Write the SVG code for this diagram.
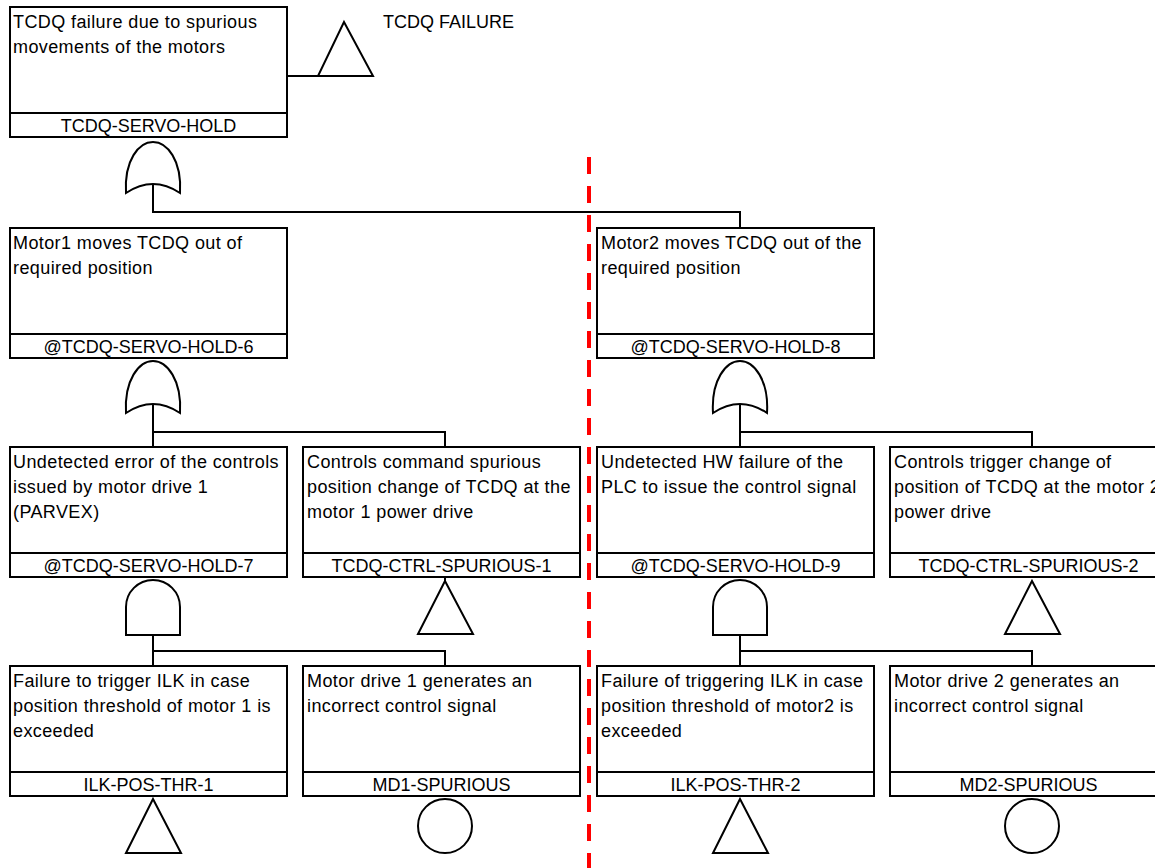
<svg xmlns="http://www.w3.org/2000/svg" width="1155" height="868" viewBox="0 0 1155 868">
<style>
.box{fill:#fff;stroke:#000;stroke-width:2}
.ln{fill:none;stroke:#000;stroke-width:2}
.gate{fill:#fff;stroke:#000;stroke-width:2}
.d{font-family:"Liberation Sans",Arial,sans-serif;font-size:18px;letter-spacing:0.4px;fill:#000}
.l{font-family:"Liberation Sans",Arial,sans-serif;font-size:18px;fill:#000;text-anchor:middle}
.sep{stroke:#f00;stroke-width:4;stroke-dasharray:17 12;fill:none}
</style>
<rect width="1155" height="868" fill="#fff"/>

<g id="connectors">
<line class="ln" x1="287" y1="76" x2="318" y2="76"/>
<path class="ln" d="M153,184 V212 H740 V228"/>
<path class="ln" d="M153,404 V447 M153,432 H445 V447"/>
<path class="ln" d="M740,404 V447 M740,432 H1032 V447"/>
<path class="ln" d="M445,577 V581"/>
<path class="ln" d="M153,635 V666 M153,651 H445 V666"/>
<path class="ln" d="M740,635 V666 M740,651 H1032 V666"/>
</g>

<g id="n-top">
<rect class="box" x="10" y="7" width="277" height="130"/>
<line class="ln" x1="10" y1="113" x2="287" y2="113"/>
<text class="d" x="13" y="28">TCDQ failure due to spurious</text>
<text class="d" x="13" y="53">movements of the motors</text>
<text class="l" x="148.5" y="132">TCDQ-SERVO-HOLD</text>
</g>
<g id="n-tcdq-failure">
<polygon class="gate" points="344,22 373,76 318,76"/>
<text class="d" x="383" y="28" style="letter-spacing:0">TCDQ FAILURE</text>
</g>
<g id="g-or-top">
<path class="gate" d="M126,193 C124,160 139,142 153,142 C167,142 182,160 180,193 Q153,175 126,193 Z"/>
</g>

<g id="n-hold6">
<rect class="box" x="10" y="228" width="277" height="130"/>
<line class="ln" x1="10" y1="334" x2="287" y2="334"/>
<text class="d" x="13" y="249">Motor1 moves TCDQ out of</text>
<text class="d" x="13" y="274">required position</text>
<text class="l" x="148.5" y="353">@TCDQ-SERVO-HOLD-6</text>
</g>
<g id="g-or-6">
<path class="gate" d="M126,413 C124,380 139,361 153,361 C167,361 182,380 180,413 Q153,395 126,413 Z"/>
</g>

<g id="n-hold8">
<rect class="box" x="597" y="228" width="277" height="130"/>
<line class="ln" x1="597" y1="334" x2="874" y2="334"/>
<text class="d" x="601" y="249">Motor2 moves TCDQ out of the</text>
<text class="d" x="601" y="274">required position</text>
<text class="l" x="735.5" y="353">@TCDQ-SERVO-HOLD-8</text>
</g>
<g id="g-or-8">
<path class="gate" d="M713,413 C711,380 726,361 740,361 C754,361 769,380 767,413 Q740,395 713,413 Z"/>
</g>

<g id="n-hold7">
<rect class="box" x="10" y="447" width="277" height="130"/>
<line class="ln" x1="10" y1="553" x2="287" y2="553"/>
<text class="d" x="13" y="468">Undetected error of the controls</text>
<text class="d" x="13" y="493">issued by motor drive 1</text>
<text class="d" x="13" y="518">(PARVEX)</text>
<text class="l" x="148.5" y="572">@TCDQ-SERVO-HOLD-7</text>
</g>
<g id="g-and-7">
<path class="gate" d="M126,635 V607 A27,27 0 0 1 180,607 V635 Z"/>
</g>

<g id="n-ctrl1">
<rect class="box" x="303" y="447" width="277" height="130"/>
<line class="ln" x1="303" y1="553" x2="580" y2="553"/>
<text class="d" x="307" y="468">Controls command spurious</text>
<text class="d" x="307" y="493">position change of TCDQ at the</text>
<text class="d" x="307" y="518">motor 1 power drive</text>
<text class="l" x="441.5" y="572">TCDQ-CTRL-SPURIOUS-1</text>
<polygon class="gate" points="445,581 473,634 418,634"/>
</g>

<g id="n-hold9">
<rect class="box" x="597" y="447" width="277" height="130"/>
<line class="ln" x1="597" y1="553" x2="874" y2="553"/>
<text class="d" x="601" y="468">Undetected HW failure of the</text>
<text class="d" x="601" y="493">PLC to issue the control signal</text>
<text class="l" x="735.5" y="572">@TCDQ-SERVO-HOLD-9</text>
</g>
<g id="g-and-9">
<path class="gate" d="M713,635 V607 A27,27 0 0 1 767,607 V635 Z"/>
</g>

<g id="n-ctrl2">
<rect class="box" x="890" y="447" width="277" height="130"/>
<line class="ln" x1="890" y1="553" x2="1167" y2="553"/>
<text class="d" x="894" y="468">Controls trigger change of</text>
<text class="d" x="894" y="493">position of TCDQ at the motor 2</text>
<text class="d" x="894" y="518">power drive</text>
<text class="l" x="1028.5" y="572">TCDQ-CTRL-SPURIOUS-2</text>
<polygon class="gate" points="1032,581 1060,634 1005,634"/>
</g>

<g id="n-ilk1">
<rect class="box" x="10" y="666" width="277" height="130"/>
<line class="ln" x1="10" y1="772" x2="287" y2="772"/>
<text class="d" x="13" y="687">Failure to trigger ILK in case</text>
<text class="d" x="13" y="712">position threshold of motor 1 is</text>
<text class="d" x="13" y="737">exceeded</text>
<text class="l" x="148.5" y="791">ILK-POS-THR-1</text>
<polygon class="gate" points="153,799 181,853 126,853"/>
</g>

<g id="n-md1">
<rect class="box" x="303" y="666" width="277" height="130"/>
<line class="ln" x1="303" y1="772" x2="580" y2="772"/>
<text class="d" x="307" y="687">Motor drive 1 generates an</text>
<text class="d" x="307" y="712">incorrect control signal</text>
<text class="l" x="441.5" y="791">MD1-SPURIOUS</text>
<circle class="gate" cx="445" cy="826" r="27"/>
</g>

<g id="n-ilk2">
<rect class="box" x="597" y="666" width="277" height="130"/>
<line class="ln" x1="597" y1="772" x2="874" y2="772"/>
<text class="d" x="601" y="687">Failure of triggering ILK in case</text>
<text class="d" x="601" y="712">position threshold of motor2 is</text>
<text class="d" x="601" y="737">exceeded</text>
<text class="l" x="735.5" y="791">ILK-POS-THR-2</text>
<polygon class="gate" points="740,799 768,853 713,853"/>
</g>

<g id="n-md2">
<rect class="box" x="890" y="666" width="277" height="130"/>
<line class="ln" x1="890" y1="772" x2="1167" y2="772"/>
<text class="d" x="894" y="687">Motor drive 2 generates an</text>
<text class="d" x="894" y="712">incorrect control signal</text>
<text class="l" x="1028.5" y="791">MD2-SPURIOUS</text>
<circle class="gate" cx="1032" cy="826" r="27"/>
</g>

<line class="sep" x1="589" y1="157" x2="589" y2="868"/>
</svg>
